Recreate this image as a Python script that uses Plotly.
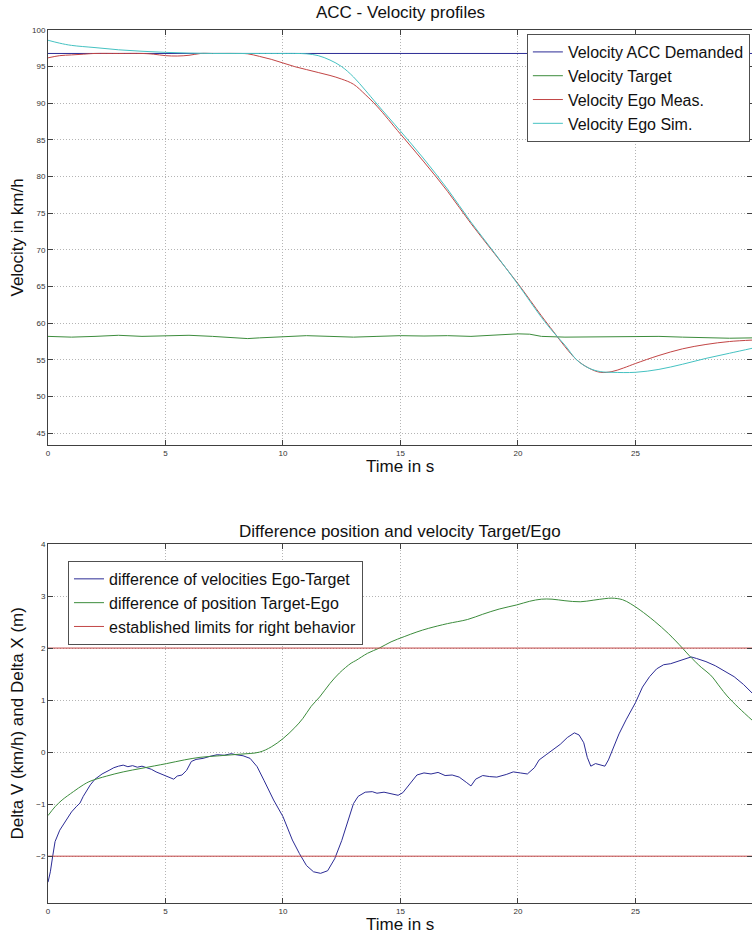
import plotly.graph_objects as go

# ---------------- Top: ACC velocity profiles ----------------
t_dem = [0, 30]
v_dem = [96.8, 96.8]

t_target = [0, 1, 2, 3, 4, 5, 6, 7, 8, 8.5, 9, 10, 11, 12, 13, 14, 15, 16, 17, 18, 19, 20,
            20.5, 21, 22, 23, 24, 25, 26, 27, 28, 29, 30]
v_target = [58.2, 58.1, 58.2, 58.35, 58.2, 58.3, 58.35, 58.2, 58.0, 57.9, 58.0, 58.2, 58.3,
            58.2, 58.1, 58.2, 58.3, 58.25, 58.3, 58.2, 58.4, 58.55, 58.5, 58.2, 58.1, 58.15,
            58.2, 58.2, 58.2, 58.1, 58.0, 57.95, 58.0]

t_meas = [0, 0.5, 1, 1.5, 2, 3, 4, 4.5, 5, 5.5, 6, 6.5, 7, 8, 8.5, 9, 9.5, 10, 10.5, 11, 11.5,
          12, 12.5, 13, 13.5, 14, 15, 16, 17, 18, 19, 20, 21, 21.5, 22, 22.5, 23, 23.5, 24,
          24.5, 25, 26, 27, 28, 29, 30]
v_meas = [96.2, 96.5, 96.6, 96.7, 96.8, 96.8, 96.8, 96.7, 96.5, 96.45, 96.55, 96.8, 96.8,
          96.8, 96.75, 96.4, 96.0, 95.5, 95.0, 94.6, 94.2, 93.8, 93.3, 92.6, 91.2, 89.6, 85.8,
          82.0, 78.0, 73.6, 69.5, 65.4, 61.0, 58.9, 56.8, 55.0, 53.9, 53.3, 53.4, 53.9, 54.5,
          55.6, 56.5, 57.1, 57.5, 57.7]

t_sim = [0, 0.5, 1, 2, 3, 4, 5, 6, 7, 8, 9, 10, 10.5, 11, 11.5, 12, 12.5, 13, 13.5, 14, 15,
         16, 17, 18, 19, 20, 21, 21.5, 22, 22.5, 23, 23.5, 24, 25, 26, 27, 28, 29, 30]
v_sim = [98.6, 98.2, 97.9, 97.6, 97.3, 97.1, 96.95, 96.85, 96.8, 96.8, 96.8, 96.8, 96.8,
         96.75, 96.5, 95.9, 95.0, 93.6, 91.8, 89.9, 86.2, 82.4, 78.3, 73.8, 69.6, 65.3, 60.8,
         58.8, 57.0, 55.0, 53.9, 53.4, 53.3, 53.3, 53.7, 54.4, 55.2, 55.9, 56.6]

# ---------------- Bottom: differences ----------------
t_dv = [0.0, 0.1, 0.2, 0.3, 0.5, 0.8, 1.0, 1.2, 1.36, 1.5, 1.8, 2.0, 2.3, 2.6, 2.8, 3.0, 3.2,
        3.4, 3.6, 3.8, 4.0, 4.2, 4.4, 4.6, 4.8, 5.0, 5.2, 5.35, 5.5, 5.7, 5.9, 6.1, 6.3, 6.6,
        6.9, 7.2, 7.5, 7.8, 8.0, 8.3, 8.6, 8.9, 9.2, 9.6, 10.0, 10.4, 10.7, 11.0, 11.3, 11.6,
        11.9, 12.2, 12.5, 12.8, 13.0, 13.2, 13.5, 13.8, 14.0, 14.3, 14.6, 14.9, 15.1, 15.4,
        15.7, 16.0, 16.3, 16.6, 16.9, 17.2, 17.5, 17.8, 18.0, 18.2, 18.5, 18.8, 19.1, 19.5,
        19.8, 20.1, 20.4, 20.7, 20.9, 21.2, 21.5, 21.8, 22.1, 22.4, 22.6, 22.8, 22.95, 23.1,
        23.3, 23.5, 23.7, 23.85, 24.0, 24.3, 24.6, 25.0, 25.3, 25.6, 25.9, 26.2, 26.5, 26.8,
        27.1, 27.37, 27.6, 28.0, 28.4, 28.8, 29.2, 29.6, 30.0]
v_dv = [-2.5, -2.3, -2.0, -1.72, -1.5, -1.3, -1.15, -1.05, -0.98, -0.85, -0.63, -0.52, -0.42,
        -0.35, -0.30, -0.27, -0.25, -0.28, -0.26, -0.29, -0.27, -0.30, -0.33, -0.38, -0.42,
        -0.46, -0.50, -0.52, -0.46, -0.44, -0.35, -0.18, -0.14, -0.12, -0.08, -0.05, -0.06,
        -0.03, -0.05, -0.07, -0.12, -0.28, -0.55, -0.92, -1.24, -1.69, -1.95, -2.18, -2.30,
        -2.33, -2.28, -2.05, -1.70, -1.25, -0.99, -0.85, -0.77, -0.76, -0.79, -0.77, -0.80,
        -0.83, -0.78, -0.62, -0.44, -0.40, -0.42, -0.39, -0.45, -0.44, -0.48, -0.58, -0.65,
        -0.52, -0.45, -0.47, -0.48, -0.43, -0.38, -0.40, -0.42, -0.30, -0.15, -0.05, 0.05,
        0.15, 0.28, 0.37, 0.33, 0.18, -0.10, -0.27, -0.22, -0.25, -0.27, -0.15, 0.02, 0.35,
        0.62, 0.95, 1.25, 1.45, 1.60, 1.68, 1.70, 1.74, 1.78, 1.83, 1.80, 1.74, 1.66, 1.55,
        1.45, 1.30, 1.12]

t_dx = [0, 0.3, 0.6, 1.08, 1.5, 1.79, 2.5, 3.2, 4.0, 5.05, 5.8, 6.47, 7.3, 8.17, 9.0, 9.5,
        10.0, 10.5, 10.85, 11.2, 11.56, 12.0, 12.4, 12.9, 13.1, 13.6, 14.1, 14.6, 15.16, 15.7,
        16.2, 17.0, 17.86, 18.5, 19.2, 19.95, 20.5, 21.0, 21.45, 22.0, 22.65, 23.2, 23.7,
        24.0, 24.45, 24.8, 25.2, 25.8, 26.4, 27.0, 27.3, 27.8, 28.2, 28.6, 28.9, 29.4, 30.0]
v_dx = [-1.22, -1.05, -0.92, -0.76, -0.63, -0.56, -0.46, -0.38, -0.31, -0.22, -0.15, -0.10,
        -0.07, -0.04, 0.0, 0.1, 0.26, 0.47, 0.65, 0.88, 1.06, 1.32, 1.52, 1.71, 1.76, 1.90,
        2.0, 2.12, 2.22, 2.31, 2.38, 2.47, 2.55, 2.65, 2.75, 2.83, 2.90, 2.94, 2.94, 2.91,
        2.89, 2.92, 2.95, 2.96, 2.93, 2.85, 2.73, 2.52, 2.28, 2.00, 1.85, 1.63, 1.48, 1.25,
        1.08, 0.85, 0.60]

t_lim = [0, 30]
v_lim_up = [2, 2]
v_lim_low = [-2, -2]

BLUE = "#2b2b95"
GREEN = "#3c8c3c"
RED = "#c24545"
CYAN = "#45c2c2"
FONT = "Liberation Sans, Arial, sans-serif"

fig = go.Figure()
fig.add_trace(go.Scatter(x=t_dem, y=v_dem, mode="lines", line=dict(color=BLUE, width=1),
                         name="Velocity ACC Demanded", xaxis="x", yaxis="y", legend="legend"))
fig.add_trace(go.Scatter(x=t_target, y=v_target, mode="lines", line=dict(color=GREEN, width=1),
                         name="Velocity Target", xaxis="x", yaxis="y", legend="legend"))
fig.add_trace(go.Scatter(x=t_meas, y=v_meas, mode="lines", line=dict(color=RED, width=1, shape="spline"),
                         name="Velocity Ego Meas.", xaxis="x", yaxis="y", legend="legend"))
fig.add_trace(go.Scatter(x=t_sim, y=v_sim, mode="lines", line=dict(color=CYAN, width=1, shape="spline"),
                         name="Velocity Ego Sim.", xaxis="x", yaxis="y", legend="legend"))

fig.add_trace(go.Scatter(x=t_dv, y=v_dv, mode="lines", line=dict(color=BLUE, width=1),
                         name="difference of velocities Ego-Target", xaxis="x2", yaxis="y2",
                         legend="legend2"))
fig.add_trace(go.Scatter(x=t_dx, y=v_dx, mode="lines", line=dict(color=GREEN, width=1, shape="spline"),
                         name="difference of position Target-Ego", xaxis="x2", yaxis="y2",
                         legend="legend2"))
fig.add_trace(go.Scatter(x=t_lim, y=v_lim_up, mode="lines", line=dict(color=RED, width=1),
                         name="established limits for right behavior", xaxis="x2", yaxis="y2",
                         legend="legend2"))
fig.add_trace(go.Scatter(x=t_lim, y=v_lim_low, mode="lines", line=dict(color=RED, width=1),
                         name="established limits for right behavior", xaxis="x2", yaxis="y2",
                         legend="legend2", showlegend=False))

axis_style = dict(showline=True, linecolor="#404040", linewidth=1, mirror="ticks",
                  ticks="inside", ticklen=5, tickcolor="#404040", showgrid=True,
                  gridcolor="#b4b4b4", griddash="1px,2px", gridwidth=1, zeroline=False,
                  tickfont=dict(size=8, color="#333333", family=FONT))

xticks = [0, 5, 10, 15, 20, 25, 30]
fig.update_layout(
    width=752, height=936,
    margin=dict(l=48, r=0, t=30, b=33),
    paper_bgcolor="white", plot_bgcolor="white",
    font=dict(family=FONT, color="#111111"),
    xaxis=dict(axis_style, domain=[0, 1], range=[0, 29.96], tickvals=xticks, anchor="y"),
    yaxis=dict(axis_style, domain=[0.5246, 1], range=[43.38, 100],
               tickvals=[45, 50, 55, 60, 65, 70, 75, 80, 85, 90, 95, 100], anchor="x"),
    xaxis2=dict(axis_style, domain=[0, 1], range=[0, 29.96], tickvals=xticks, anchor="y2"),
    yaxis2=dict(axis_style, domain=[0, 0.4112], range=[-2.9, 4],
                tickvals=[-2, -1, 0, 1, 2, 3, 4], anchor="x2"),
    legend=dict(x=0.997, y=0.9954, xanchor="right", yanchor="top", bgcolor="white",
                bordercolor="#505050", borderwidth=1, font=dict(size=16, family=FONT, color="#111"),
                itemwidth=30, tracegroupgap=0),
    legend2=dict(x=0.0284, y=0.3918, xanchor="left", yanchor="top", bgcolor="white",
                 bordercolor="#505050", borderwidth=1, font=dict(size=16, family=FONT, color="#111"),
                 itemwidth=30, tracegroupgap=0),
    showlegend=True,
)

ann = dict(xref="paper", yref="paper", showarrow=False)
fig.add_annotation(ann, text="ACC - Velocity profiles", x=0.5, y=1.0206, yanchor="middle",
                   font=dict(size=17, family=FONT, color="#111"))
fig.add_annotation(ann, text="Time in s", x=0.5, y=0.4995, yanchor="middle",
                   font=dict(size=17, family=FONT, color="#111"))
fig.add_annotation(ann, text="Velocity in km/h", x=-0.0426, y=0.7623, textangle=-90,
                   xanchor="center", yanchor="middle", font=dict(size=17, family=FONT, color="#111"))
fig.add_annotation(ann, text="Difference position and velocity Target/Ego", x=0.5, y=0.4261,
                   yanchor="middle", font=dict(size=17, family=FONT, color="#111"))
fig.add_annotation(ann, text="Time in s", x=0.5, y=-0.0241, yanchor="middle",
                   font=dict(size=17, family=FONT, color="#111"))
fig.add_annotation(ann, text="Delta V (km/h) and Delta X (m)", x=-0.0426, y=0.2056, textangle=-90,
                   xanchor="center", yanchor="middle", font=dict(size=17, family=FONT, color="#111"))

# remove the browser's default 8px body margin so the figure fills the window exactly
fig.write_html("out.html", config=dict(displayModeBar=False),
               post_script="document.body.style.margin='0';document.body.style.overflow='hidden';")
